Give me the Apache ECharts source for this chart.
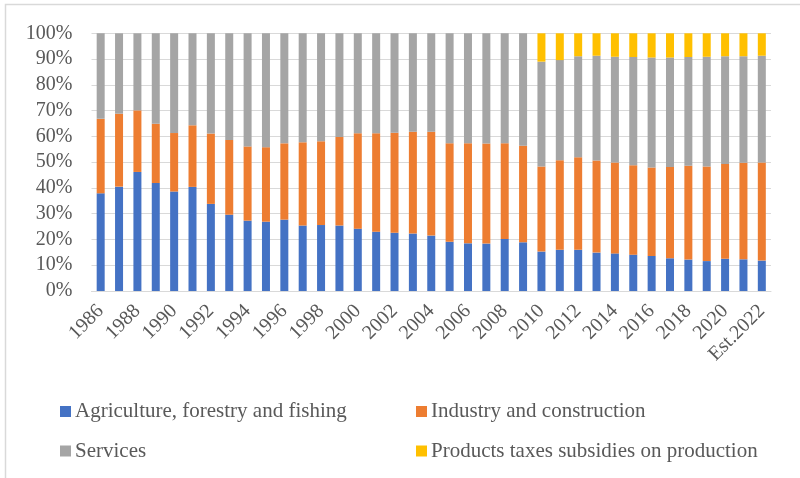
<!DOCTYPE html>
<html>
<head>
<meta charset="utf-8">
<script src="https://cdn.jsdelivr.net/npm/echarts@6/dist/echarts.min.js"></script>
<style>
  html, body { margin: 0; padding: 0; background: #fff; }
  #chart { width: 800px; height: 478px; }
</style>
</head>
<body>
<div id="chart"></div>
<script>
const years = ['1986', '1987', '1988', '1989', '1990', '1991', '1992', '1993', '1994', '1995',
  '1996', '1997', '1998', '1999', '2000', '2001', '2002', '2003', '2004', '2005',
  '2006', '2007', '2008', '2009', '2010', '2011', '2012', '2013', '2014', '2015',
  '2016', '2017', '2018', '2019', '2020', '2021', 'Est.2022']

// shares of GDP, %
const agriculture = [37.9, 40.5, 46.2, 41.9, 38.6, 40.4, 33.8, 29.6, 27.3, 26.9,
  27.7, 25.4, 25.6, 25.4, 24.2, 23.0, 22.6, 22.3, 21.5, 19.1,
  18.5, 18.4, 20.2, 18.9, 15.3, 16.0, 16.0, 14.9, 14.6, 14.1,
  13.6, 12.7, 12.2, 11.6, 12.5, 12.3, 11.8]
const industry = [28.9, 28.3, 23.9, 23.0, 22.7, 23.9, 27.3, 29.0, 28.8, 28.9,
  29.6, 32.3, 32.5, 34.4, 37.0, 38.2, 38.8, 39.5, 40.3, 38.2,
  38.8, 38.8, 37.1, 37.5, 33.0, 34.7, 35.9, 35.7, 35.3, 34.7,
  34.3, 35.4, 36.4, 36.7, 36.8, 37.5, 38.1]
const services = [33.2, 31.2, 29.9, 35.1, 38.7, 35.7, 38.9, 41.4, 43.9, 44.2,
  42.7, 42.3, 41.9, 40.2, 38.8, 38.8, 38.6, 38.2, 38.2, 42.7,
  42.7, 42.8, 42.7, 43.6, 40.7, 38.9, 39.2, 40.7, 41.0, 42.0,
  42.7, 42.5, 42.2, 42.6, 41.8, 41.3, 41.4]
const taxes = [null, null, null, null, null, null, null, null, null, null,
  null, null, null, null, null, null, null, null, null, null,
  null, null, null, null, 11.0, 10.4, 8.9, 8.7, 9.1, 9.2,
  9.4, 9.4, 9.2, 9.1, 8.9, 8.9, 8.7]

const seriesNames = ['Agriculture, forestry and fishing', 'Industry and construction',
  'Services', 'Products taxes subsidies on production']
const colors = ['#4472C4', '#ED7D31', '#A5A5A5', '#FFC000']

const font = 'Liberation Serif, Times New Roman, serif'
const chart = echarts.init(document.getElementById('chart'))

// one legend per item so each sits where the original has it
const legendPos = [[60, 401], [416, 401], [60, 440.5], [416, 440.5]]

chart.setOption({
  animation: false,
  color: colors,
  graphic: [{
    type: 'rect',
    shape: { x: 5.5, y: 4.5, width: 900, height: 600 },
    style: { fill: 'none', stroke: '#d9d9d9', lineWidth: 1.5 },
    silent: true
  }],
  grid: { left: 91.5, right: 29, top: 33.3, bottom: 187 },
  legend: seriesNames.map((name, i) => ({
    data: [name],
    left: legendPos[i][0],
    top: legendPos[i][1],
    padding: 0,
    itemWidth: 11,
    itemHeight: 11,
    icon: 'rect',
    itemStyle: { borderWidth: 0 },
    textStyle: { fontFamily: font, fontSize: 21, color: '#595959', padding: [0, 0, 0, -1] }
  })),
  xAxis: {
    type: 'category',
    data: years,
    axisTick: { show: false },
    axisLine: { lineStyle: { color: '#d9d9d9', width: 1 } },
    axisLabel: {
      interval: 1,
      rotate: 45,
      margin: 17,
      fontFamily: font,
      fontSize: 20,
      color: '#595959'
    }
  },
  yAxis: {
    type: 'value',
    min: 0,
    max: 100,
    interval: 10,
    axisLine: { show: false },
    axisTick: { show: false },
    splitLine: { lineStyle: { color: '#d9d9d9', width: 1 } },
    axisLabel: {
      formatter: '{value}%',
      margin: 19,
      fontFamily: font,
      fontSize: 20,
      color: '#595959'
    }
  },
  series: [agriculture, industry, services, taxes].map((data, i) => ({
    name: seriesNames[i],
    type: 'bar',
    stack: 'total',
    barWidth: 8,
    data: data
  }))
})
</script>
</body>
</html>
